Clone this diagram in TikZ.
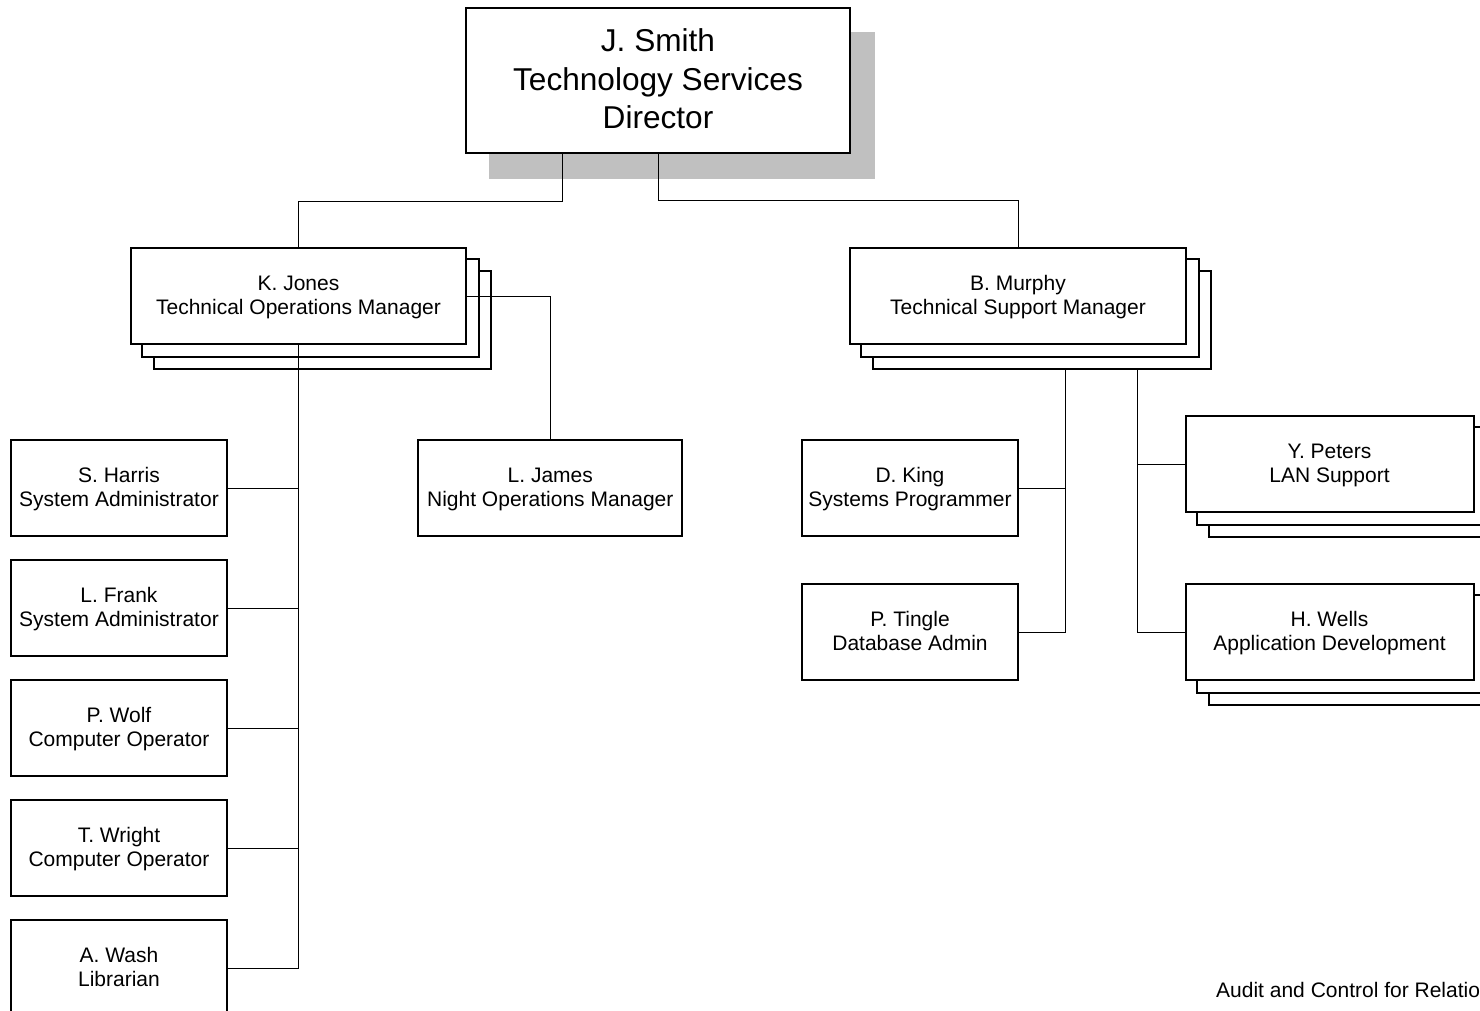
\documentclass[tikz,border=0pt]{standalone}
\usepackage{fontspec}
\setmainfont{Liberation Sans}
\usetikzlibrary{calc,backgrounds}
\definecolor{shadowgray}{RGB}{192,192,192}
\newcommand\lnstrut{\rule[-5pt]{0pt}{23pt}}
\newcommand\dirstrut{\rule[-7pt]{0pt}{33pt}}
\begin{document}
\begin{tikzpicture}[x=1pt,y=-1pt,
  box/.style={draw=black,line width=2pt,fill=white,inner sep=0pt,align=center,
    minimum height=96pt,font=\fontsize{21}{24.4}\selectfont},
  smallbox/.style={box,minimum width=216pt},
  stk/.style={draw=black,line width=2pt,fill=white},
  conn/.style={draw=black,line width=1pt},
  notetext/.style={inner sep=0pt,font=\fontsize{21}{24.4}\selectfont}]
\path[use as bounding box] (0,0) rectangle (1480,1010);
\clip (0,0) rectangle (1480,1010);

% top
\node[box,minimum width=384pt,minimum height=145pt,font=\fontsize{31.6}{38.3}\selectfont]
  (js) at (658,80.5) {\dirstrut J. Smith\\\dirstrut Technology Services\\\dirstrut Director};

% managers
\node[box,minimum width=335pt] (kj) at (298.5,296) {\lnstrut K. Jones\\\lnstrut Technical Operations Manager};
\node[box,minimum width=336pt] (bm) at (1018,296) {\lnstrut B. Murphy\\\lnstrut Technical Support Manager};

% left column
\node[smallbox] (sh) at (119,488) {\lnstrut S. Harris\\\lnstrut System Administrator};
\node[smallbox] (lf) at (119,608) {\lnstrut L. Frank\\\lnstrut System Administrator};
\node[smallbox] (pw) at (119,728) {\lnstrut P. Wolf\\\lnstrut Computer Operator};
\node[smallbox] (tw) at (119,848) {\lnstrut T. Wright\\\lnstrut Computer Operator};
\node[smallbox] (aw) at (119,968) {\lnstrut A. Wash\\\lnstrut Librarian};

\node[box,minimum width=264pt] (lj) at (550.3,488) {\lnstrut L. James\\\lnstrut Night Operations Manager};

% right side
\node[smallbox] (dk) at (910,488) {\lnstrut D. King\\\lnstrut Systems Programmer};
\node[smallbox] (pt) at (910,632) {\lnstrut P. Tingle\\\lnstrut Database Admin};
\node[box,minimum width=288pt] (yp) at (1329.5,464) {\lnstrut Y. Peters\\\lnstrut LAN Support};
\node[box,minimum width=288pt] (hw) at (1329.5,632) {\lnstrut H. Wells\\\lnstrut Application Development};

% note
\node[notetext,anchor=base west] (note) at (1216,997) {Audit and Control for Relational};

% shadows and stacks
\begin{scope}[on background layer]
  \fill[shadowgray] ([shift={(24,24.5)}]js.north west) rectangle ([shift={(24,24.5)}]js.south east);
  \foreach \n in {kj,bm,yp,hw}{
    \draw[stk] ([shift={(24,24)}]\n.north west) rectangle ([shift={(24,24)}]\n.south east);
    \draw[stk] ([shift={(12,12)}]\n.north west) rectangle ([shift={(12,12)}]\n.south east);
  }
\end{scope}

% connectors
\coordinate (jr) at (658,200);
\draw[conn] (js.south) -- (jr) -| (bm.north);
\draw[conn] ([xshift=-96pt]js.south) -- ++(0,47) -| (kj.north);
\draw[conn] (kj.east) -| (lj.north);
\draw[conn] (kj.south) |- (aw.east);
\foreach \n in {sh,lf,pw,tw}{
  \draw[conn] (\n.east) -- (\n.east -| kj.south);
}
\coordinate (bma) at ([shift={(216,24)}]bm.south west);
\coordinate (bmb) at ([shift={(288,24)}]bm.south west);
\draw[conn] (bma) |- (pt.east);
\draw[conn] (dk.east) -- (dk.east -| bma);
\draw[conn] (bmb) |- (hw.west);
\draw[conn] (yp.west) -- (yp.west -| bmb);
\end{tikzpicture}
\end{document}
